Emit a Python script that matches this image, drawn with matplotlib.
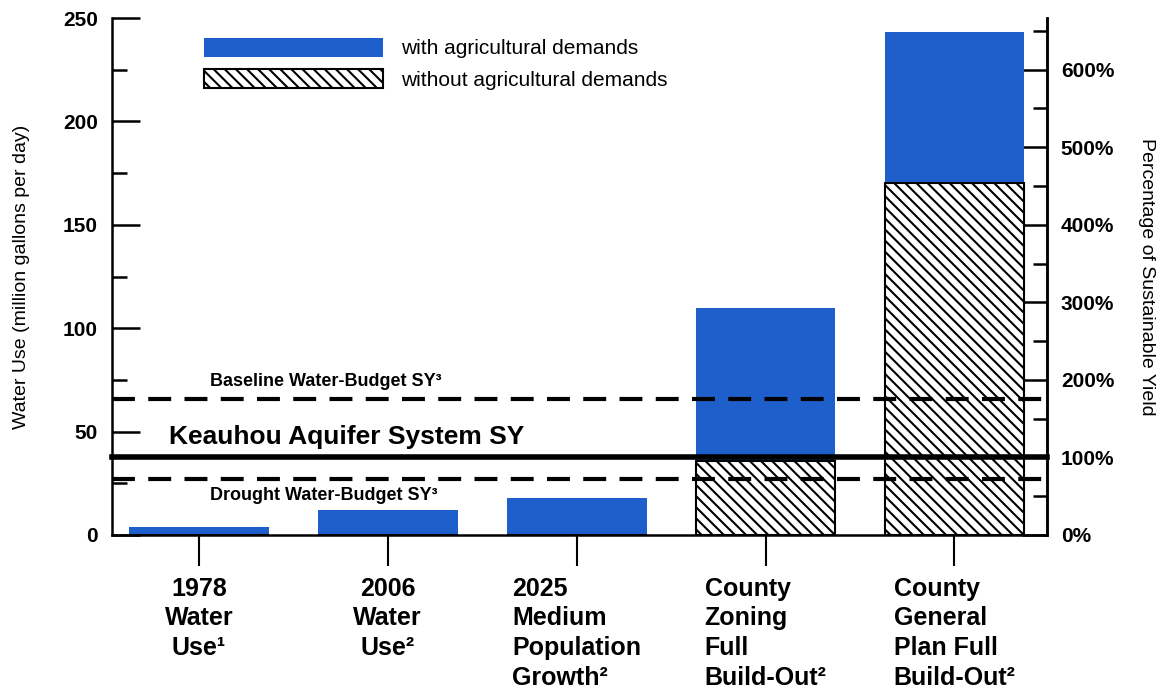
import matplotlib
matplotlib.use("Agg")
import matplotlib.pyplot as plt
from matplotlib.patches import Patch
from matplotlib.ticker import MultipleLocator, FixedLocator, FuncFormatter

categories = ["1978\nWater\nUse\u00b9", "2006\nWater\nUse\u00b2", "2025\nMedium\nPopulation\nGrowth\u00b2",
              "County\nZoning\nFull\nBuild-Out\u00b2", "County\nGeneral\nPlan Full\nBuild-Out\u00b2"]
with_ag = [4, 12, 18, 110, 243]
without_ag = [0, 0, 0, 36, 170]
keauhou_sy = 37.5
baseline_sy = 66
drought_sy = 27
pct_ticks = [0, 100, 200, 300, 400, 500, 600]
pct_minor = [50, 150, 250, 350, 450, 550, 650]

blue = "#1f5fcb"
plt.rcParams['font.family'] = ['Liberation Sans', 'DejaVu Sans']
plt.rcParams['hatch.linewidth'] = 1.5

fig = plt.figure(figsize=(11.66, 6.91), dpi=100)
ax = fig.add_axes([112/1166, 1-535/691, (1047-112)/1166, (535-18)/691])

x = list(range(len(categories)))
ax.bar(x, with_ag, width=0.74, color=blue, edgecolor='none', zorder=2)
ax.bar(x, without_ag, width=0.74, color='white', edgecolor='black', hatch='\\\\\\', linewidth=1.5, zorder=3)

ax.axhline(keauhou_sy, color='black', lw=4, zorder=5, clip_on=False)
ax.axhline(baseline_sy, color='black', lw=3, ls=(0, (5.5, 3.2)), zorder=5)
ax.axhline(drought_sy, color='black', lw=3, ls=(0, (5.5, 3.2)), zorder=5)

ax.text(0.06, baseline_sy + 4, "Baseline Water-Budget SY\u00b3", fontsize=13, fontweight='bold', va='bottom', ha='left')
ax.text(-0.16, keauhou_sy + 4, "Keauhou Aquifer System SY", fontsize=19, fontweight='bold', va='bottom', ha='left')
ax.text(0.06, drought_sy - 4, "Drought Water-Budget SY\u00b3", fontsize=13, fontweight='bold', va='top', ha='left')

ax.set_xlim(-0.46, 4.49)
ax.set_ylim(0, 250)
ax.spines['top'].set_visible(False)
for s in ['left', 'right', 'bottom']:
    ax.spines[s].set_linewidth(1.8)

ax.yaxis.set_major_locator(MultipleLocator(50))
ax.yaxis.set_minor_locator(MultipleLocator(25))
ax.tick_params(axis='y', which='major', direction='in', length=20, width=1.8, labelsize=15, pad=10)
ax.tick_params(axis='y', which='minor', direction='in', length=11, width=1.8)
for lbl in ax.get_yticklabels():
    lbl.set_fontweight('bold')
ax.set_ylabel("Water Use (million gallons per day)", fontsize=14, labelpad=24)

ax.set_xticks(x)
ax.set_xticklabels(categories, fontsize=18, fontweight='bold', linespacing=1.3)
ax.tick_params(axis='x', direction='out', length=22, width=1.5, pad=8)
for i, lbl in enumerate(ax.get_xticklabels()):
    lbl.set_multialignment('center' if i < 2 else 'left')

# secondary axis: percentage of sustainable yield
sec = ax.secondary_yaxis('right', functions=(lambda v: v / keauhou_sy * 100, lambda p: p * keauhou_sy / 100))
sec.yaxis.set_major_locator(FixedLocator(pct_ticks))
sec.yaxis.set_minor_locator(FixedLocator(pct_minor))
sec.yaxis.set_major_formatter(FuncFormatter(lambda v, p: f"{int(round(v))}%"))
sec.tick_params(axis='y', which='major', direction='in', length=18, width=1.8, labelsize=15, pad=10)
sec.tick_params(axis='y', which='minor', direction='in', length=10, width=1.8)
sec.spines['right'].set_linewidth(1.8)
for lbl in sec.get_yticklabels():
    lbl.set_fontweight('bold')
sec.set_ylabel("Percentage of Sustainable Yield", fontsize=14, rotation=-90, labelpad=29)

handles = [Patch(facecolor=blue, edgecolor='none'),
           Patch(facecolor='white', edgecolor='black', hatch='\\\\\\', linewidth=1.5)]
leg = ax.legend(handles, ["with agricultural demands", "without agricultural demands"],
                loc='upper left', bbox_to_anchor=(187/1166, 1-21/691), bbox_transform=fig.transFigure,
                frameon=False, fontsize=15, handlelength=8.6, handleheight=1.05,
                labelspacing=0.5, handletextpad=0.85, borderpad=0.3)

fig.savefig("out.png", dpi=100)
